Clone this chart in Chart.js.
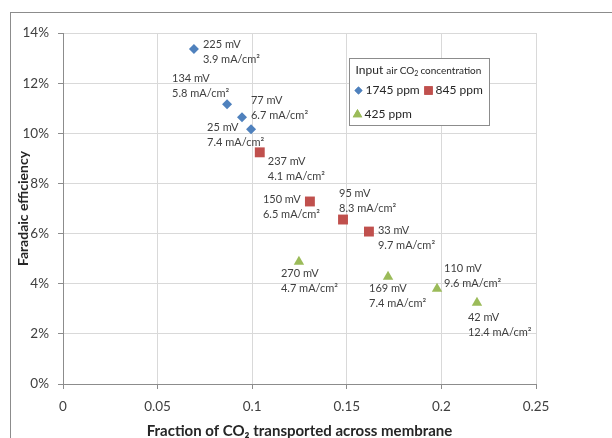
<!DOCTYPE html>
<html>
<head>
<meta charset="utf-8">
<script src="https://cdn.jsdelivr.net/npm/chart.js@4.4.1/dist/chart.umd.min.js"></script>
<style>
  html, body { margin: 0; padding: 0; background: #ffffff; }
  #wrap { width: 612px; height: 438px; position: relative; }
</style>
</head>
<body>
<div id="wrap"><canvas id="c" width="612" height="438"></canvas></div>
<script>
// ---- Data ----
const seriesNames = ['1745 ppm', '845 ppm', '425 ppm'];

const fraction1745 = [0.0692, 0.0867, 0.0946, 0.0994];
const efficiency1745 = [0.1336, 0.1116, 0.1064, 0.1016];
const voltage1745 = ['225 mV', '134 mV', '77 mV', '25 mV'];
const current1745 = ['3.9 mA/cm²', '5.8 mA/cm²', '6.7 mA/cm²', '7.4 mA/cm²'];

const fraction845 = [0.1040, 0.1305, 0.1480, 0.1617];
const efficiency845 = [0.0924, 0.0728, 0.0656, 0.0608];
const voltage845 = ['237 mV', '150 mV', '95 mV', '33 mV'];
const current845 = ['4.1 mA/cm²', '6.5 mA/cm²', '8.3 mA/cm²', '9.7 mA/cm²'];

const fraction425 = [0.1247, 0.1718, 0.1977, 0.2188];
const efficiency425 = [0.0488, 0.0428, 0.0380, 0.0324];
const voltage425 = ['270 mV', '169 mV', '110 mV', '42 mV'];
const current425 = ['4.7 mA/cm²', '7.4 mA/cm²', '9.6 mA/cm²', '12.4 mA/cm²'];

const xTickValues = [0, 0.05, 0.1, 0.15, 0.2, 0.25];
const yTickValues = [0, 0.02, 0.04, 0.06, 0.08, 0.10, 0.12, 0.14];

// ---- Label placement (pixel offsets of label block from its point) ----
const labelOffsets1745 = [[9, -5], [-55, -26], [9, -17], [-44, -2]];
const labelOffsets845 = [[8, 9], [-47, -2], [-4, -26], [9, -1]];
const labelOffsets425 = [[-18, 12], [-19, 12], [7, -20], [-9, 15]];

const FONT = 'Lato, "Liberation Sans", sans-serif';

function toPoints(xs, ys) { return xs.map((x, i) => ({x: x, y: ys[i]})); }

const datasets = [
  { label: seriesNames[0], data: toPoints(fraction1745, efficiency1745),
    pointStyle: 'rectRot', pointRadius: 5, backgroundColor: '#4F81BD', borderColor: '#4F81BD',
    voltages: voltage1745, currents: current1745, offsets: labelOffsets1745 },
  { label: seriesNames[1], data: toPoints(fraction845, efficiency845),
    pointStyle: 'rect', pointRadius: 7, backgroundColor: '#C0504D', borderColor: '#C0504D',
    voltages: voltage845, currents: current845, offsets: labelOffsets845 },
  { label: seriesNames[2], data: toPoints(fraction425, efficiency425),
    pointStyle: 'triangle', pointRadius: 6, backgroundColor: '#9BBB59', borderColor: '#9BBB59',
    voltages: voltage425, currents: current425, offsets: labelOffsets425 }
];
datasets.forEach(d => { d.borderWidth = 0; d.pointHoverRadius = d.pointRadius; d.showLine = false; });

const frame = {
  id: 'frame',
  beforeDraw(chart) {
    const ctx = chart.ctx;
    ctx.save();
    ctx.fillStyle = '#ffffff';
    ctx.fillRect(0, 0, chart.width, chart.height);
    ctx.strokeStyle = '#8c8c8c';
    ctx.lineWidth = 1;
    ctx.strokeRect(10.5, 12.5, 700, 500);
    ctx.restore();
  }
};

const pointLabels = {
  id: 'pointLabels',
  afterDatasetsDraw(chart) {
    const ctx = chart.ctx;
    ctx.save();
    ctx.font = '11px ' + FONT;
    ctx.fillStyle = '#404040';
    ctx.textAlign = 'left';
    ctx.textBaseline = 'middle';
    chart.data.datasets.forEach((ds, di) => {
      const meta = chart.getDatasetMeta(di);
      meta.data.forEach((el, i) => {
        const off = ds.offsets[i];
        const x = el.x + off[0];
        const y = el.y + off[1];
        ctx.fillText(ds.voltages[i], x, y);
        ctx.fillText(ds.currents[i], x, y + 15);
      });
    });
    ctx.restore();
  }
};

const boxLegend = {
  id: 'boxLegend',
  afterDraw(chart) {
    const ctx = chart.ctx;
    const left = 349.5, top = 58.5, w = 140, h = 67;
    ctx.save();
    ctx.fillStyle = '#ffffff';
    ctx.fillRect(left, top, w, h);
    ctx.strokeStyle = '#8c8c8c';
    ctx.lineWidth = 1;
    ctx.strokeRect(left, top, w, h);
    ctx.fillStyle = '#262626';
    ctx.textBaseline = 'middle';
    ctx.textAlign = 'left';
    ctx.font = '12px ' + FONT;
    ctx.fillText('Input', left + 6, top + 12);
    let tx = left + 6 + ctx.measureText('Input ').width;
    ctx.font = '10px ' + FONT;
    ctx.fillText('air CO', tx, top + 12);
    tx += ctx.measureText('air CO').width;
    ctx.font = '7px ' + FONT;
    ctx.fillText('2', tx, top + 15);
    tx += ctx.measureText('2').width + 2;
    ctx.font = '10px ' + FONT;
    ctx.fillText('concentration', tx, top + 12);

    const items = [[left + 9, top + 32], [left + 79, top + 32], [left + 8, top + 56]];
    chart.data.datasets.forEach((ds, i) => {
      const [mx, my] = items[i];
      ctx.fillStyle = ds.backgroundColor;
      const r = ds.pointStyle === 'rect' ? 6 : (ds.pointStyle === 'triangle' ? 5.5 : 4);
      Chart.helpers.drawPoint(ctx, {pointStyle: ds.pointStyle, radius: r, borderWidth: 0}, mx, my);
      ctx.fill();
      ctx.fillStyle = '#262626';
      ctx.font = '12px ' + FONT;
      ctx.fillText(ds.label, mx + 7, my);
    });
    ctx.restore();
  }
};

new Chart(document.getElementById('c'), {
  type: 'scatter',
  data: { datasets: datasets },
  plugins: [frame, pointLabels, boxLegend],
  options: {
    responsive: false,
    animation: false,
    events: [],
    layout: { padding: { left: 0, top: 33, right: 76, bottom: 0 } },
    plugins: { legend: { display: false }, tooltip: { enabled: false } },
    scales: {
      x: {
        type: 'linear', min: 0, max: 0.25,
        afterBuildTicks(scale) { scale.ticks = xTickValues.map(v => ({value: v})); },
        afterFit(scale) { scale.height = 54; },
        ticks: {
          padding: 10, color: '#404040', font: { family: FONT, size: 13.5 },
          callback: v => String(Math.round(v * 100) / 100)
        },
        grid: { color: '#d9d9d9', tickColor: '#8c8c8c', tickLength: 5, lineWidth: 1 },
        border: { color: '#8c8c8c' },
        title: {
          display: true, text: 'Fraction of CO\u2082 transported across membrane',
          color: '#262626', font: { family: FONT, size: 15, weight: 'bold', lineHeight: 1 },
          padding: { top: 0, bottom: -1 }
        }
      },
      y: {
        type: 'linear', min: 0, max: 0.14,
        afterBuildTicks(scale) { scale.ticks = yTickValues.map(v => ({value: v})); },
        afterFit(scale) { scale.width = 63; },
        ticks: {
          padding: 9, color: '#404040', font: { family: FONT, size: 13.5 },
          callback: v => Math.round(v * 100) + '%'
        },
        grid: { color: '#d9d9d9', tickColor: '#8c8c8c', tickLength: 5, lineWidth: 1 },
        border: { color: '#8c8c8c' },
        title: {
          display: true, text: 'Faradaic efficiency',
          color: '#262626', font: { family: FONT, size: 14, weight: 'bold', lineHeight: 1 },
          padding: { top: 16, bottom: 0 }
        }
      }
    }
  }
});
</script>
</body>
</html>
